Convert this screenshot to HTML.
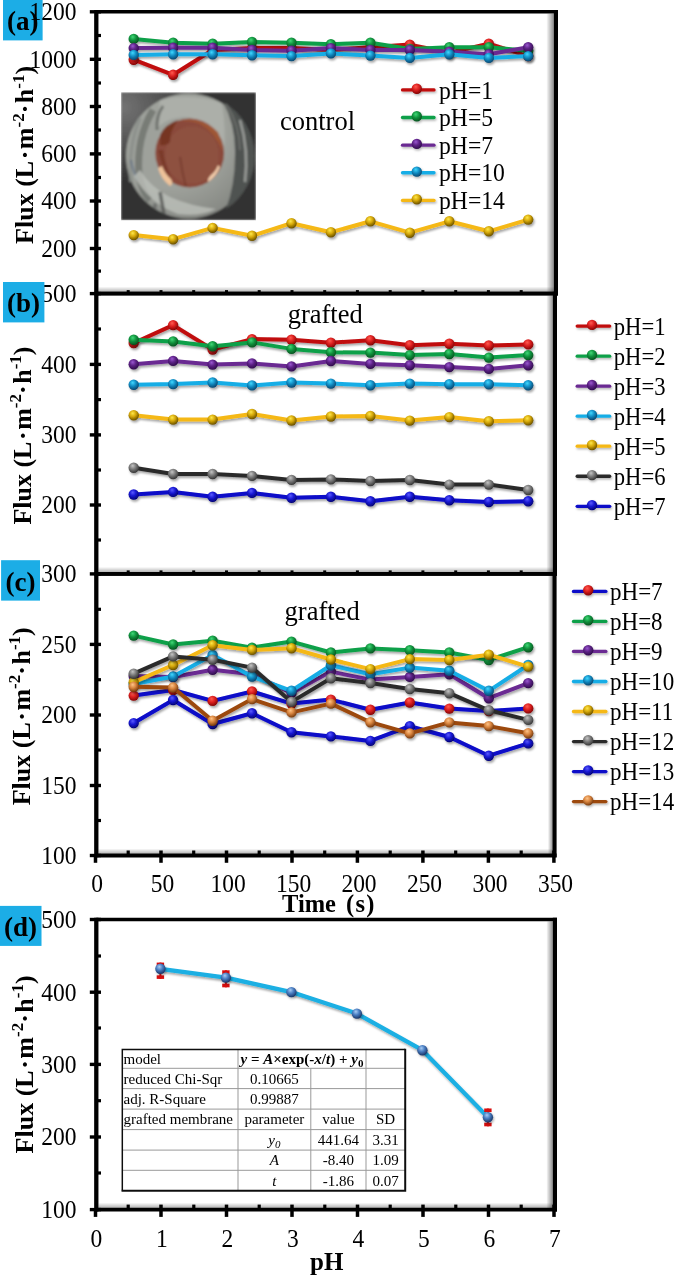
<!DOCTYPE html><html><head><meta charset="utf-8"><style>
html,body{margin:0;padding:0;background:#fff;}body{width:675px;height:1276px;overflow:hidden;}
svg{display:block;} text{font-family:"Liberation Serif",serif;fill:#000;}
.tk{font-size:25px;} .lg{font-size:24.5px;} .ann{font-size:26.5px;} .ttl{font-size:27px;font-weight:bold;} .pl{font-size:26px;font-weight:bold;}
.tb{font-size:15px;}
</style></head><body>
<svg width="675" height="1276" viewBox="0 0 675 1276">
<defs><radialGradient id="g_red" cx="0.42" cy="0.36" r="0.68" fx="0.4" fy="0.3"><stop offset="0" stop-color="#ff5a50"/><stop offset="0.45" stop-color="#dc2020"/><stop offset="1" stop-color="#7a0000"/></radialGradient><radialGradient id="g_green" cx="0.42" cy="0.36" r="0.68" fx="0.4" fy="0.3"><stop offset="0" stop-color="#40d878"/><stop offset="0.45" stop-color="#12963f"/><stop offset="1" stop-color="#034a1c"/></radialGradient><radialGradient id="g_purple" cx="0.42" cy="0.36" r="0.68" fx="0.4" fy="0.3"><stop offset="0" stop-color="#9a58d0"/><stop offset="0.45" stop-color="#5e2288"/><stop offset="1" stop-color="#2a0a44"/></radialGradient><radialGradient id="g_cyan" cx="0.42" cy="0.36" r="0.68" fx="0.4" fy="0.3"><stop offset="0" stop-color="#40d8ff"/><stop offset="0.45" stop-color="#138fc6"/><stop offset="1" stop-color="#053e66"/></radialGradient><radialGradient id="g_yellow" cx="0.42" cy="0.36" r="0.68" fx="0.4" fy="0.3"><stop offset="0" stop-color="#ffe84a"/><stop offset="0.45" stop-color="#d6a808"/><stop offset="1" stop-color="#5e4600"/></radialGradient><radialGradient id="g_gray" cx="0.42" cy="0.36" r="0.68" fx="0.4" fy="0.3"><stop offset="0" stop-color="#c4c4c4"/><stop offset="0.45" stop-color="#7c7c7c"/><stop offset="1" stop-color="#2e2e2e"/></radialGradient><radialGradient id="g_blue" cx="0.42" cy="0.36" r="0.68" fx="0.4" fy="0.3"><stop offset="0" stop-color="#5a5aff"/><stop offset="0.45" stop-color="#1818d4"/><stop offset="1" stop-color="#00006a"/></radialGradient><radialGradient id="g_brown" cx="0.42" cy="0.36" r="0.68" fx="0.4" fy="0.3"><stop offset="0" stop-color="#ffc488"/><stop offset="0.45" stop-color="#d8843e"/><stop offset="1" stop-color="#6a3008"/></radialGradient><radialGradient id="g_dball" cx="0.42" cy="0.36" r="0.68" fx="0.4" fy="0.3"><stop offset="0" stop-color="#a8ccf4"/><stop offset="0.45" stop-color="#4a7ec2"/><stop offset="1" stop-color="#142c5c"/></radialGradient><filter id="sh" x="-5%" y="-20%" width="110%" height="140%"><feDropShadow dx="1.2" dy="2" stdDeviation="1.3" flood-color="#000" flood-opacity="0.35"/></filter><filter id="sh2" x="-20%" y="-50%" width="140%" height="200%"><feDropShadow dx="1" dy="1.5" stdDeviation="1" flood-color="#000" flood-opacity="0.3"/></filter><linearGradient id="shR" x1="0" x2="1" y1="0" y2="0"><stop offset="0" stop-color="#000" stop-opacity="0"/><stop offset="1" stop-color="#000" stop-opacity="0.45"/></linearGradient><linearGradient id="shB" x1="0" x2="0" y1="0" y2="1"><stop offset="0" stop-color="#000" stop-opacity="0"/><stop offset="1" stop-color="#000" stop-opacity="0.3"/></linearGradient><linearGradient id="photobg" x1="0" y1="0" x2="1" y2="1"><stop offset="0" stop-color="#6a6a6a"/><stop offset="0.35" stop-color="#3c3c3c"/><stop offset="1" stop-color="#2e2e2e"/></linearGradient><radialGradient id="photoHi" cx="0.02" cy="0.12" r="0.6"><stop offset="0" stop-color="#7a7a7a" stop-opacity="0.9"/><stop offset="1" stop-color="#7a7a7a" stop-opacity="0"/></radialGradient><radialGradient id="discSh" cx="0.35" cy="0.3" r="0.75"><stop offset="0.6" stop-color="#000" stop-opacity="0"/><stop offset="1" stop-color="#000" stop-opacity="0.15"/></radialGradient><linearGradient id="photoL" x1="0" x2="1"><stop offset="0" stop-color="#808080" stop-opacity="0.5"/><stop offset="1" stop-color="#808080" stop-opacity="0"/></linearGradient><filter id="soft"><feGaussianBlur stdDeviation="0.9"/></filter><radialGradient id="disc" cx="0.45" cy="0.45" r="0.6"><stop offset="0" stop-color="#c8cac6"/><stop offset="0.7" stop-color="#b0b3ae"/><stop offset="1" stop-color="#8e918c"/></radialGradient><radialGradient id="brown" cx="0.5" cy="0.45" r="0.55"><stop offset="0" stop-color="#8a4a38"/><stop offset="0.7" stop-color="#7e4030"/><stop offset="1" stop-color="#9a5a40"/></radialGradient><filter id="gblur" x="0" y="0" width="100%" height="100%"><feGaussianBlur stdDeviation="0.45"/></filter></defs>
<rect x="0" y="0" width="675" height="1276" fill="#fff"/>
<g filter="url(#gblur)">
<rect x="3" y="0" width="39.6" height="40.4" fill="#1aade6"/><text x="7" y="29.5" class="ttl">(a)</text>
<rect x="546.3" y="13.600000000000001" width="7.5" height="280.0" fill="url(#shR)" opacity="1.11"/><rect x="98.3" y="286.6" width="455.6" height="5.3" fill="url(#shB)"/><line x1="96.3" y1="11.8" x2="558.0" y2="11.8" stroke="#000" stroke-width="3.5"/><line x1="95.3" y1="293.6" x2="558.0" y2="293.6" stroke="#000" stroke-width="3.9"/><line x1="96.3" y1="10.05" x2="96.3" y2="295.40000000000003" stroke="#000" stroke-width="4.3"/><line x1="555.9" y1="10.05" x2="555.9" y2="295.40000000000003" stroke="#000" stroke-width="4.2"/>
<rect x="546.3" y="295.40000000000003" width="6.5" height="278.5" fill="url(#shR)" opacity="0.93"/><rect x="98.3" y="566.9" width="454.6" height="5.3" fill="url(#shB)"/><line x1="96.3" y1="293.6" x2="557.0" y2="293.6" stroke="#000" stroke-width="3.5"/><line x1="95.3" y1="573.9" x2="557.0" y2="573.9" stroke="#000" stroke-width="3.9"/><line x1="96.3" y1="291.85" x2="96.3" y2="575.6999999999999" stroke="#000" stroke-width="4.3"/><line x1="554.9" y1="291.85" x2="554.9" y2="575.6999999999999" stroke="#000" stroke-width="4.2"/>
<rect x="547.9" y="575.6999999999999" width="4.5" height="279.8" fill="url(#shR)" opacity="0.89"/><rect x="98.3" y="848.5" width="454.2" height="5.3" fill="url(#shB)"/><line x1="96.3" y1="573.9" x2="556.6" y2="573.9" stroke="#000" stroke-width="3.5"/><line x1="95.3" y1="855.5" x2="556.6" y2="855.5" stroke="#000" stroke-width="3.9"/><line x1="96.3" y1="572.15" x2="96.3" y2="857.3" stroke="#000" stroke-width="4.3"/><line x1="554.5" y1="572.15" x2="554.5" y2="857.3" stroke="#000" stroke-width="4.2"/>
<rect x="546.3" y="921.3" width="6.5" height="288.3" fill="url(#shR)" opacity="1.00"/><rect x="98.3" y="1202.6" width="454.6" height="5.3" fill="url(#shB)"/><line x1="96.3" y1="919.5" x2="557.0" y2="919.5" stroke="#000" stroke-width="3.5"/><line x1="95.3" y1="1209.6" x2="557.0" y2="1209.6" stroke="#000" stroke-width="3.9"/><line x1="96.3" y1="917.75" x2="96.3" y2="1211.3999999999999" stroke="#000" stroke-width="4.3"/><line x1="554.9" y1="917.75" x2="554.9" y2="1211.3999999999999" stroke="#000" stroke-width="4.2"/>
<line x1="89.8" y1="11.8" x2="101" y2="11.8" stroke="#000" stroke-width="3.4"/><line x1="89.8" y1="59.3" x2="101" y2="59.3" stroke="#000" stroke-width="3.4"/><line x1="89.8" y1="106.5" x2="101" y2="106.5" stroke="#000" stroke-width="3.4"/><line x1="89.8" y1="153.9" x2="101" y2="153.9" stroke="#000" stroke-width="3.4"/><line x1="89.8" y1="201" x2="101" y2="201" stroke="#000" stroke-width="3.4"/><line x1="89.8" y1="248.5" x2="101" y2="248.5" stroke="#000" stroke-width="3.4"/><line x1="96" y1="35.5" x2="101" y2="35.5" stroke="#000" stroke-width="3.2"/><line x1="96" y1="83" x2="101" y2="83" stroke="#000" stroke-width="3.2"/><line x1="96" y1="130" x2="101" y2="130" stroke="#000" stroke-width="3.2"/><line x1="96" y1="177.5" x2="101" y2="177.5" stroke="#000" stroke-width="3.2"/><line x1="96" y1="224.7" x2="101" y2="224.7" stroke="#000" stroke-width="3.2"/><line x1="96" y1="271.1" x2="101" y2="271.1" stroke="#000" stroke-width="3.2"/>
<line x1="89.8" y1="293.6" x2="101" y2="293.6" stroke="#000" stroke-width="3.4"/><line x1="89.8" y1="364.4" x2="101" y2="364.4" stroke="#000" stroke-width="3.4"/><line x1="89.8" y1="434.9" x2="101" y2="434.9" stroke="#000" stroke-width="3.4"/><line x1="89.8" y1="505" x2="101" y2="505" stroke="#000" stroke-width="3.4"/><line x1="96" y1="329" x2="101" y2="329" stroke="#000" stroke-width="3.2"/><line x1="96" y1="399.6" x2="101" y2="399.6" stroke="#000" stroke-width="3.2"/><line x1="96" y1="470" x2="101" y2="470" stroke="#000" stroke-width="3.2"/><line x1="96" y1="540" x2="101" y2="540" stroke="#000" stroke-width="3.2"/>
<line x1="89.8" y1="573.9" x2="101" y2="573.9" stroke="#000" stroke-width="3.4"/><line x1="89.8" y1="644.4" x2="101" y2="644.4" stroke="#000" stroke-width="3.4"/><line x1="89.8" y1="715" x2="101" y2="715" stroke="#000" stroke-width="3.4"/><line x1="89.8" y1="785.5" x2="101" y2="785.5" stroke="#000" stroke-width="3.4"/><line x1="89.8" y1="855.5" x2="101" y2="855.5" stroke="#000" stroke-width="3.4"/><line x1="96" y1="609.3" x2="101" y2="609.3" stroke="#000" stroke-width="3.2"/><line x1="96" y1="679.7" x2="101" y2="679.7" stroke="#000" stroke-width="3.2"/><line x1="96" y1="750" x2="101" y2="750" stroke="#000" stroke-width="3.2"/><line x1="96" y1="820.5" x2="101" y2="820.5" stroke="#000" stroke-width="3.2"/>
<line x1="89.8" y1="919.5" x2="101" y2="919.5" stroke="#000" stroke-width="3.4"/><line x1="89.8" y1="992.2" x2="101" y2="992.2" stroke="#000" stroke-width="3.4"/><line x1="89.8" y1="1064.4" x2="101" y2="1064.4" stroke="#000" stroke-width="3.4"/><line x1="89.8" y1="1137" x2="101" y2="1137" stroke="#000" stroke-width="3.4"/><line x1="89.8" y1="1209.6" x2="101" y2="1209.6" stroke="#000" stroke-width="3.4"/><line x1="96" y1="956" x2="101" y2="956" stroke="#000" stroke-width="3.2"/><line x1="96" y1="1028" x2="101" y2="1028" stroke="#000" stroke-width="3.2"/><line x1="96" y1="1100.7" x2="101" y2="1100.7" stroke="#000" stroke-width="3.2"/><line x1="96" y1="1173" x2="101" y2="1173" stroke="#000" stroke-width="3.2"/>
<line x1="128.2" y1="290.1" x2="128.2" y2="293.6" stroke="#000" stroke-width="3"/>
<line x1="161.0" y1="290.1" x2="161.0" y2="293.6" stroke="#000" stroke-width="3"/>
<line x1="193.7" y1="290.1" x2="193.7" y2="293.6" stroke="#000" stroke-width="3"/>
<line x1="226.5" y1="290.1" x2="226.5" y2="293.6" stroke="#000" stroke-width="3"/>
<line x1="259.2" y1="290.1" x2="259.2" y2="293.6" stroke="#000" stroke-width="3"/>
<line x1="292.0" y1="290.1" x2="292.0" y2="293.6" stroke="#000" stroke-width="3"/>
<line x1="324.7" y1="290.1" x2="324.7" y2="293.6" stroke="#000" stroke-width="3"/>
<line x1="357.4" y1="290.1" x2="357.4" y2="293.6" stroke="#000" stroke-width="3"/>
<line x1="390.2" y1="290.1" x2="390.2" y2="293.6" stroke="#000" stroke-width="3"/>
<line x1="422.9" y1="290.1" x2="422.9" y2="293.6" stroke="#000" stroke-width="3"/>
<line x1="455.7" y1="290.1" x2="455.7" y2="293.6" stroke="#000" stroke-width="3"/>
<line x1="488.4" y1="290.1" x2="488.4" y2="293.6" stroke="#000" stroke-width="3"/>
<line x1="521.2" y1="290.1" x2="521.2" y2="293.6" stroke="#000" stroke-width="3"/>
<line x1="128.2" y1="570.4" x2="128.2" y2="573.9" stroke="#000" stroke-width="3"/>
<line x1="161.0" y1="570.4" x2="161.0" y2="573.9" stroke="#000" stroke-width="3"/>
<line x1="193.7" y1="570.4" x2="193.7" y2="573.9" stroke="#000" stroke-width="3"/>
<line x1="226.5" y1="570.4" x2="226.5" y2="573.9" stroke="#000" stroke-width="3"/>
<line x1="259.2" y1="570.4" x2="259.2" y2="573.9" stroke="#000" stroke-width="3"/>
<line x1="292.0" y1="570.4" x2="292.0" y2="573.9" stroke="#000" stroke-width="3"/>
<line x1="324.7" y1="570.4" x2="324.7" y2="573.9" stroke="#000" stroke-width="3"/>
<line x1="357.4" y1="570.4" x2="357.4" y2="573.9" stroke="#000" stroke-width="3"/>
<line x1="390.2" y1="570.4" x2="390.2" y2="573.9" stroke="#000" stroke-width="3"/>
<line x1="422.9" y1="570.4" x2="422.9" y2="573.9" stroke="#000" stroke-width="3"/>
<line x1="455.7" y1="570.4" x2="455.7" y2="573.9" stroke="#000" stroke-width="3"/>
<line x1="488.4" y1="570.4" x2="488.4" y2="573.9" stroke="#000" stroke-width="3"/>
<line x1="521.2" y1="570.4" x2="521.2" y2="573.9" stroke="#000" stroke-width="3"/>
<line x1="128.2" y1="850.5" x2="128.2" y2="855.5" stroke="#000" stroke-width="3.2"/>
<line x1="161.0" y1="850.5" x2="161.0" y2="862.8" stroke="#000" stroke-width="3.5"/>
<line x1="193.7" y1="850.5" x2="193.7" y2="855.5" stroke="#000" stroke-width="3.2"/>
<line x1="226.5" y1="850.5" x2="226.5" y2="862.8" stroke="#000" stroke-width="3.5"/>
<line x1="259.2" y1="850.5" x2="259.2" y2="855.5" stroke="#000" stroke-width="3.2"/>
<line x1="292.0" y1="850.5" x2="292.0" y2="862.8" stroke="#000" stroke-width="3.5"/>
<line x1="324.7" y1="850.5" x2="324.7" y2="855.5" stroke="#000" stroke-width="3.2"/>
<line x1="357.4" y1="850.5" x2="357.4" y2="862.8" stroke="#000" stroke-width="3.5"/>
<line x1="390.2" y1="850.5" x2="390.2" y2="855.5" stroke="#000" stroke-width="3.2"/>
<line x1="422.9" y1="850.5" x2="422.9" y2="862.8" stroke="#000" stroke-width="3.5"/>
<line x1="455.7" y1="850.5" x2="455.7" y2="855.5" stroke="#000" stroke-width="3.2"/>
<line x1="488.4" y1="850.5" x2="488.4" y2="862.8" stroke="#000" stroke-width="3.5"/>
<line x1="521.2" y1="850.5" x2="521.2" y2="855.5" stroke="#000" stroke-width="3.2"/>
<line x1="553.9" y1="850.5" x2="553.9" y2="862.8" stroke="#000" stroke-width="3.5"/>
<line x1="95.5" y1="855.5" x2="95.5" y2="862.8" stroke="#000" stroke-width="3.5"/>
<line x1="128.2" y1="1204.6" x2="128.2" y2="1209.6" stroke="#000" stroke-width="3.2"/>
<line x1="161.0" y1="1204.6" x2="161.0" y2="1216.8999999999999" stroke="#000" stroke-width="3.5"/>
<line x1="193.8" y1="1204.6" x2="193.8" y2="1209.6" stroke="#000" stroke-width="3.2"/>
<line x1="226.5" y1="1204.6" x2="226.5" y2="1216.8999999999999" stroke="#000" stroke-width="3.5"/>
<line x1="259.2" y1="1204.6" x2="259.2" y2="1209.6" stroke="#000" stroke-width="3.2"/>
<line x1="292.0" y1="1204.6" x2="292.0" y2="1216.8999999999999" stroke="#000" stroke-width="3.5"/>
<line x1="324.8" y1="1204.6" x2="324.8" y2="1209.6" stroke="#000" stroke-width="3.2"/>
<line x1="357.5" y1="1204.6" x2="357.5" y2="1216.8999999999999" stroke="#000" stroke-width="3.5"/>
<line x1="390.2" y1="1204.6" x2="390.2" y2="1209.6" stroke="#000" stroke-width="3.2"/>
<line x1="423.0" y1="1204.6" x2="423.0" y2="1216.8999999999999" stroke="#000" stroke-width="3.5"/>
<line x1="455.8" y1="1204.6" x2="455.8" y2="1209.6" stroke="#000" stroke-width="3.2"/>
<line x1="488.5" y1="1204.6" x2="488.5" y2="1216.8999999999999" stroke="#000" stroke-width="3.5"/>
<line x1="521.2" y1="1204.6" x2="521.2" y2="1209.6" stroke="#000" stroke-width="3.2"/>
<line x1="554.0" y1="1204.6" x2="554.0" y2="1216.8999999999999" stroke="#000" stroke-width="3.5"/>
<line x1="95.5" y1="1209.6" x2="95.5" y2="1216.8999999999999" stroke="#000" stroke-width="3.5"/>
<text transform="translate(76.6,20.2) scale(0.94,1)" class="tk" text-anchor="end">1200</text><text transform="translate(76.6,67.7) scale(0.94,1)" class="tk" text-anchor="end">1000</text><text transform="translate(76.6,114.9) scale(0.94,1)" class="tk" text-anchor="end">800</text><text transform="translate(76.6,162.3) scale(0.94,1)" class="tk" text-anchor="end">600</text><text transform="translate(76.6,209.4) scale(0.94,1)" class="tk" text-anchor="end">400</text><text transform="translate(76.6,256.9) scale(0.94,1)" class="tk" text-anchor="end">200</text>
<text transform="translate(76.6,302.0) scale(0.94,1)" class="tk" text-anchor="end">500</text><text transform="translate(76.6,372.8) scale(0.94,1)" class="tk" text-anchor="end">400</text><text transform="translate(76.6,443.3) scale(0.94,1)" class="tk" text-anchor="end">300</text><text transform="translate(76.6,513.4) scale(0.94,1)" class="tk" text-anchor="end">200</text>
<text transform="translate(76.6,582.3) scale(0.94,1)" class="tk" text-anchor="end">300</text><text transform="translate(76.6,652.8) scale(0.94,1)" class="tk" text-anchor="end">250</text><text transform="translate(76.6,723.4) scale(0.94,1)" class="tk" text-anchor="end">200</text><text transform="translate(76.6,793.9) scale(0.94,1)" class="tk" text-anchor="end">150</text><text transform="translate(76.6,863.9) scale(0.94,1)" class="tk" text-anchor="end">100</text>
<text transform="translate(76.6,927.9) scale(0.94,1)" class="tk" text-anchor="end">500</text><text transform="translate(76.6,1000.6) scale(0.94,1)" class="tk" text-anchor="end">400</text><text transform="translate(76.6,1072.8) scale(0.94,1)" class="tk" text-anchor="end">300</text><text transform="translate(76.6,1145.4) scale(0.94,1)" class="tk" text-anchor="end">200</text><text transform="translate(76.6,1218.0) scale(0.94,1)" class="tk" text-anchor="end">100</text>
<text transform="translate(97.1,892.3) scale(0.94,1)" class="tk" text-anchor="middle">0</text>
<text transform="translate(96.3,1247) scale(0.94,1)" class="tk" text-anchor="middle">0</text>
<text transform="translate(162.6,892.3) scale(0.94,1)" class="tk" text-anchor="middle">50</text>
<text transform="translate(161.8,1247) scale(0.94,1)" class="tk" text-anchor="middle">1</text>
<text transform="translate(228.1,892.3) scale(0.94,1)" class="tk" text-anchor="middle">100</text>
<text transform="translate(227.3,1247) scale(0.94,1)" class="tk" text-anchor="middle">2</text>
<text transform="translate(293.6,892.3) scale(0.94,1)" class="tk" text-anchor="middle">150</text>
<text transform="translate(292.8,1247) scale(0.94,1)" class="tk" text-anchor="middle">3</text>
<text transform="translate(359.0,892.3) scale(0.94,1)" class="tk" text-anchor="middle">200</text>
<text transform="translate(358.3,1247) scale(0.94,1)" class="tk" text-anchor="middle">4</text>
<text transform="translate(424.5,892.3) scale(0.94,1)" class="tk" text-anchor="middle">250</text>
<text transform="translate(423.8,1247) scale(0.94,1)" class="tk" text-anchor="middle">5</text>
<text transform="translate(490.0,892.3) scale(0.94,1)" class="tk" text-anchor="middle">300</text>
<text transform="translate(489.3,1247) scale(0.94,1)" class="tk" text-anchor="middle">6</text>
<text transform="translate(555.5,892.3) scale(0.94,1)" class="tk" text-anchor="middle">350</text>
<text transform="translate(554.8,1247) scale(0.94,1)" class="tk" text-anchor="middle">7</text>
<rect x="3" y="282" width="41.4" height="40.4" fill="#1aade6"/><text x="7" y="312" class="ttl">(b)</text>
<rect x="1.1" y="560.2" width="38.9" height="40.4" fill="#1aade6"/><text x="5.5" y="591" class="ttl">(c)</text>
<rect x="0" y="905.9" width="41.5" height="40.0" fill="#1aade6"/><text x="4" y="936" class="ttl">(d)</text>
<text transform="translate(33.2,243.9) rotate(-90)" class="pl">Flux (L<tspan dx="1.5">·</tspan><tspan dx="1.5">m</tspan><tspan dy="-9.5" font-size="17">-2</tspan><tspan dy="9.5">·</tspan><tspan dx="1.5">h</tspan><tspan dy="-9.5" font-size="17">-1</tspan><tspan dy="9.5">)</tspan></text>
<text transform="translate(30.8,524.6) rotate(-90)" class="pl">Flux (L<tspan dx="1.5">·</tspan><tspan dx="1.5">m</tspan><tspan dy="-9.5" font-size="17">-2</tspan><tspan dy="9.5">·</tspan><tspan dx="1.5">h</tspan><tspan dy="-9.5" font-size="17">-1</tspan><tspan dy="9.5">)</tspan></text>
<text transform="translate(29.6,805.3) rotate(-90)" class="pl">Flux (L<tspan dx="1.5">·</tspan><tspan dx="1.5">m</tspan><tspan dy="-9.5" font-size="17">-2</tspan><tspan dy="9.5">·</tspan><tspan dx="1.5">h</tspan><tspan dy="-9.5" font-size="17">-1</tspan><tspan dy="9.5">)</tspan></text>
<text transform="translate(32.6,1153.4) rotate(-90)" class="pl">Flux (L<tspan dx="1.5">·</tspan><tspan dx="1.5">m</tspan><tspan dy="-9.5" font-size="17">-2</tspan><tspan dy="9.5">·</tspan><tspan dx="1.5">h</tspan><tspan dy="-9.5" font-size="17">-1</tspan><tspan dy="9.5">)</tspan></text>
<text x="282" y="912" class="pl" style="font-size:24.5px">Time</text><text x="346" y="912" class="pl" style="font-size:24.5px;letter-spacing:1.3px">(s)</text>
<text x="310" y="1270" class="pl" style="font-size:25px">pH</text>
<clipPath id="pclip"><rect x="121" y="92.3" width="135" height="128"/></clipPath>
<g clip-path="url(#pclip)"><g filter="url(#soft)">
<rect x="121" y="92.3" width="135" height="128" fill="#303030"/>
<rect x="121" y="92.3" width="135" height="128" fill="url(#photoHi)"/>
<circle cx="188.5" cy="156" r="62.5" fill="#9ea19b"/>
<circle cx="188.5" cy="156" r="62.5" fill="url(#discSh)"/>
<path d="M160,100 Q190,92 222,103 Q226,130 224,150 Q205,118 185,117 Q165,118 156,130 Z" fill="#b2b5af" opacity="0.7"/>
<path d="M223,102 Q236,125 235,155 Q235,185 226,209 A62.5,62.5 0 0 0 223,102 Z" fill="#505351"/>
<path d="M240,120 Q249,150 245,182" stroke="#b8bbb6" stroke-width="2.5" fill="none" opacity="0.7"/>
<path d="M226,104 Q240,126 240,150" stroke="#7a7d7a" stroke-width="2" fill="none" opacity="0.6"/>
<path d="M153,110 Q136,138 139,175 Q142,192 150,200" stroke="#6e726d" stroke-width="7" fill="none" opacity="0.8"/>
<path d="M140,118 Q128,146 131,182" stroke="#8a8e89" stroke-width="4" fill="none" opacity="0.8"/>
<path d="M163,106 Q156,116 157,130" stroke="#5a5e5a" stroke-width="3" fill="none" opacity="0.7"/>
<path d="M131,160 Q133,172 138,180" stroke="#4a6080" stroke-width="2" fill="none" opacity="0.5"/>
<path d="M134,176 Q150,204 178,214 Q200,217 216,209 Q190,206 170,197 Q150,187 140,170 Z" fill="#bcbfb9" opacity="0.8"/>
<path d="M160,192 L164,214" stroke="#4e504e" stroke-width="3.5" opacity="0.75"/>
<ellipse cx="155" cy="206" rx="2" ry="3" fill="#5a5c5a" opacity="0.6"/>
<ellipse cx="189.7" cy="153" rx="34.4" ry="34.4" fill="#8a4a3a"/>
<ellipse cx="192" cy="155" rx="27" ry="29" fill="#8e5242" opacity="0.9"/>
<path d="M160,135 Q165,124 178,120 Q170,130 170,142 Q166,146 160,145 Z" fill="#72301f" opacity="0.85"/>
<path d="M178,121 Q200,115 218,132 Q222,142 223,152 Q215,132 200,124 Q190,120 178,121 Z" fill="#a45a34" opacity="0.8"/>
<path d="M180,157 Q182,172 186,187" stroke="#6e3426" stroke-width="2" fill="none" opacity="0.6"/>
<path d="M158,150 Q162,170 172,180 Q165,165 163,150 Z" fill="#6a2c1e" opacity="0.5"/>
<path d="M158,168 Q161,179 170,186 Q174,184 171,179 Q165,174 162,166 Z" fill="#eec29a"/>
<path d="M220,167 Q216,177 208,182 Q207,179 211,175 Q216,171 218,165 Z" fill="#f2ccaa"/>
</g></g>
<g filter="url(#sh)"><polyline points="133.7,59.7 173.1,74.8 212.6,50.0 252.0,48.1 291.5,48.1 330.9,49.9 370.4,47.2 409.8,44.6 449.3,52.6 488.8,43.7 528.2,56.1" fill="none" stroke="#c00a0c" stroke-width="4.0" stroke-linejoin="round" stroke-linecap="round"/><circle cx="133.7" cy="59.7" r="5.2" fill="url(#g_red)"/><circle cx="173.1" cy="74.8" r="5.2" fill="url(#g_red)"/><circle cx="212.6" cy="50.0" r="5.2" fill="url(#g_red)"/><circle cx="252.0" cy="48.1" r="5.2" fill="url(#g_red)"/><circle cx="291.5" cy="48.1" r="5.2" fill="url(#g_red)"/><circle cx="330.9" cy="49.9" r="5.2" fill="url(#g_red)"/><circle cx="370.4" cy="47.2" r="5.2" fill="url(#g_red)"/><circle cx="409.8" cy="44.6" r="5.2" fill="url(#g_red)"/><circle cx="449.3" cy="52.6" r="5.2" fill="url(#g_red)"/><circle cx="488.8" cy="43.7" r="5.2" fill="url(#g_red)"/><circle cx="528.2" cy="56.1" r="5.2" fill="url(#g_red)"/></g>
<g filter="url(#sh)"><polyline points="133.7,38.9 173.1,42.8 212.6,43.7 252.0,41.9 291.5,42.8 330.9,44.2 370.4,42.8 409.8,49.0 449.3,47.2 488.8,47.2 528.2,50.8" fill="none" stroke="#10a048" stroke-width="4.0" stroke-linejoin="round" stroke-linecap="round"/><circle cx="133.7" cy="38.9" r="5.2" fill="url(#g_green)"/><circle cx="173.1" cy="42.8" r="5.2" fill="url(#g_green)"/><circle cx="212.6" cy="43.7" r="5.2" fill="url(#g_green)"/><circle cx="252.0" cy="41.9" r="5.2" fill="url(#g_green)"/><circle cx="291.5" cy="42.8" r="5.2" fill="url(#g_green)"/><circle cx="330.9" cy="44.2" r="5.2" fill="url(#g_green)"/><circle cx="370.4" cy="42.8" r="5.2" fill="url(#g_green)"/><circle cx="409.8" cy="49.0" r="5.2" fill="url(#g_green)"/><circle cx="449.3" cy="47.2" r="5.2" fill="url(#g_green)"/><circle cx="488.8" cy="47.2" r="5.2" fill="url(#g_green)"/><circle cx="528.2" cy="50.8" r="5.2" fill="url(#g_green)"/></g>
<g filter="url(#sh)"><polyline points="133.7,48.1 173.1,47.8 212.6,47.8 252.0,49.9 291.5,50.8 330.9,48.1 370.4,49.9 409.8,49.9 449.3,51.7 488.8,54.3 528.2,47.2" fill="none" stroke="#6a2a92" stroke-width="4.0" stroke-linejoin="round" stroke-linecap="round"/><circle cx="133.7" cy="48.1" r="5.2" fill="url(#g_purple)"/><circle cx="173.1" cy="47.8" r="5.2" fill="url(#g_purple)"/><circle cx="212.6" cy="47.8" r="5.2" fill="url(#g_purple)"/><circle cx="252.0" cy="49.9" r="5.2" fill="url(#g_purple)"/><circle cx="291.5" cy="50.8" r="5.2" fill="url(#g_purple)"/><circle cx="330.9" cy="48.1" r="5.2" fill="url(#g_purple)"/><circle cx="370.4" cy="49.9" r="5.2" fill="url(#g_purple)"/><circle cx="409.8" cy="49.9" r="5.2" fill="url(#g_purple)"/><circle cx="449.3" cy="51.7" r="5.2" fill="url(#g_purple)"/><circle cx="488.8" cy="54.3" r="5.2" fill="url(#g_purple)"/><circle cx="528.2" cy="47.2" r="5.2" fill="url(#g_purple)"/></g>
<g filter="url(#sh)"><polyline points="133.7,54.9 173.1,54.3 212.6,54.3 252.0,55.2 291.5,56.1 330.9,53.4 370.4,55.6 409.8,57.9 449.3,54.3 488.8,57.9 528.2,56.1" fill="none" stroke="#14ade6" stroke-width="4.0" stroke-linejoin="round" stroke-linecap="round"/><circle cx="133.7" cy="54.9" r="5.2" fill="url(#g_cyan)"/><circle cx="173.1" cy="54.3" r="5.2" fill="url(#g_cyan)"/><circle cx="212.6" cy="54.3" r="5.2" fill="url(#g_cyan)"/><circle cx="252.0" cy="55.2" r="5.2" fill="url(#g_cyan)"/><circle cx="291.5" cy="56.1" r="5.2" fill="url(#g_cyan)"/><circle cx="330.9" cy="53.4" r="5.2" fill="url(#g_cyan)"/><circle cx="370.4" cy="55.6" r="5.2" fill="url(#g_cyan)"/><circle cx="409.8" cy="57.9" r="5.2" fill="url(#g_cyan)"/><circle cx="449.3" cy="54.3" r="5.2" fill="url(#g_cyan)"/><circle cx="488.8" cy="57.9" r="5.2" fill="url(#g_cyan)"/><circle cx="528.2" cy="56.1" r="5.2" fill="url(#g_cyan)"/></g>
<g filter="url(#sh)"><polyline points="133.7,235.1 173.1,239.2 212.6,227.9 252.0,235.8 291.5,223.2 330.9,232.2 370.4,221.3 409.8,232.7 449.3,221.3 488.8,231.3 528.2,219.6" fill="none" stroke="#f5b814" stroke-width="4.0" stroke-linejoin="round" stroke-linecap="round"/><circle cx="133.7" cy="235.1" r="5.2" fill="url(#g_yellow)"/><circle cx="173.1" cy="239.2" r="5.2" fill="url(#g_yellow)"/><circle cx="212.6" cy="227.9" r="5.2" fill="url(#g_yellow)"/><circle cx="252.0" cy="235.8" r="5.2" fill="url(#g_yellow)"/><circle cx="291.5" cy="223.2" r="5.2" fill="url(#g_yellow)"/><circle cx="330.9" cy="232.2" r="5.2" fill="url(#g_yellow)"/><circle cx="370.4" cy="221.3" r="5.2" fill="url(#g_yellow)"/><circle cx="409.8" cy="232.7" r="5.2" fill="url(#g_yellow)"/><circle cx="449.3" cy="221.3" r="5.2" fill="url(#g_yellow)"/><circle cx="488.8" cy="231.3" r="5.2" fill="url(#g_yellow)"/><circle cx="528.2" cy="219.6" r="5.2" fill="url(#g_yellow)"/></g>
<text x="280" y="129.5" class="ann">control</text>
<g filter="url(#sh2)"><line x1="402.5" y1="89.9" x2="434.0" y2="89.9" stroke="#c00a0c" stroke-width="3.3" stroke-linecap="round"/><circle cx="416.8" cy="88.7" r="5.2" fill="url(#g_red)"/></g><text transform="translate(439,98.5) scale(0.965,1)" class="lg">pH=1</text>
<g filter="url(#sh2)"><line x1="402.5" y1="117.52000000000001" x2="434.0" y2="117.52000000000001" stroke="#10a048" stroke-width="3.3" stroke-linecap="round"/><circle cx="416.8" cy="116.3" r="5.2" fill="url(#g_green)"/></g><text transform="translate(439,126.1) scale(0.965,1)" class="lg">pH=5</text>
<g filter="url(#sh2)"><line x1="402.5" y1="145.14000000000001" x2="434.0" y2="145.14000000000001" stroke="#6a2a92" stroke-width="3.3" stroke-linecap="round"/><circle cx="416.8" cy="143.9" r="5.2" fill="url(#g_purple)"/></g><text transform="translate(439,153.7) scale(0.965,1)" class="lg">pH=7</text>
<g filter="url(#sh2)"><line x1="402.5" y1="172.76" x2="434.0" y2="172.76" stroke="#14ade6" stroke-width="3.3" stroke-linecap="round"/><circle cx="416.8" cy="171.6" r="5.2" fill="url(#g_cyan)"/></g><text transform="translate(439,181.4) scale(0.965,1)" class="lg">pH=10</text>
<g filter="url(#sh2)"><line x1="402.5" y1="200.38" x2="434.0" y2="200.38" stroke="#f5b814" stroke-width="3.3" stroke-linecap="round"/><circle cx="416.8" cy="199.2" r="5.2" fill="url(#g_yellow)"/></g><text transform="translate(439,209.0) scale(0.965,1)" class="lg">pH=14</text>
<g filter="url(#sh)"><polyline points="133.7,343.0 173.1,325.1 212.6,349.5 252.0,339.1 291.5,339.8 330.9,342.7 370.4,340.2 409.8,345.2 449.3,343.7 488.8,345.5 528.2,344.4" fill="none" stroke="#c00a0c" stroke-width="4.0" stroke-linejoin="round" stroke-linecap="round"/><circle cx="133.7" cy="343.0" r="5.2" fill="url(#g_red)"/><circle cx="173.1" cy="325.1" r="5.2" fill="url(#g_red)"/><circle cx="212.6" cy="349.5" r="5.2" fill="url(#g_red)"/><circle cx="252.0" cy="339.1" r="5.2" fill="url(#g_red)"/><circle cx="291.5" cy="339.8" r="5.2" fill="url(#g_red)"/><circle cx="330.9" cy="342.7" r="5.2" fill="url(#g_red)"/><circle cx="370.4" cy="340.2" r="5.2" fill="url(#g_red)"/><circle cx="409.8" cy="345.2" r="5.2" fill="url(#g_red)"/><circle cx="449.3" cy="343.7" r="5.2" fill="url(#g_red)"/><circle cx="488.8" cy="345.5" r="5.2" fill="url(#g_red)"/><circle cx="528.2" cy="344.4" r="5.2" fill="url(#g_red)"/></g>
<g filter="url(#sh)"><polyline points="133.7,339.8 173.1,341.4 212.6,346.3 252.0,342.4 291.5,348.9 330.9,352.3 370.4,352.6 409.8,355.1 449.3,354.0 488.8,357.6 528.2,355.1" fill="none" stroke="#10a048" stroke-width="4.0" stroke-linejoin="round" stroke-linecap="round"/><circle cx="133.7" cy="339.8" r="5.2" fill="url(#g_green)"/><circle cx="173.1" cy="341.4" r="5.2" fill="url(#g_green)"/><circle cx="212.6" cy="346.3" r="5.2" fill="url(#g_green)"/><circle cx="252.0" cy="342.4" r="5.2" fill="url(#g_green)"/><circle cx="291.5" cy="348.9" r="5.2" fill="url(#g_green)"/><circle cx="330.9" cy="352.3" r="5.2" fill="url(#g_green)"/><circle cx="370.4" cy="352.6" r="5.2" fill="url(#g_green)"/><circle cx="409.8" cy="355.1" r="5.2" fill="url(#g_green)"/><circle cx="449.3" cy="354.0" r="5.2" fill="url(#g_green)"/><circle cx="488.8" cy="357.6" r="5.2" fill="url(#g_green)"/><circle cx="528.2" cy="355.1" r="5.2" fill="url(#g_green)"/></g>
<g filter="url(#sh)"><polyline points="133.7,364.2 173.1,360.9 212.6,364.6 252.0,363.4 291.5,366.4 330.9,361.0 370.4,363.9 409.8,365.3 449.3,367.1 488.8,368.9 528.2,365.3" fill="none" stroke="#6a2a92" stroke-width="4.0" stroke-linejoin="round" stroke-linecap="round"/><circle cx="133.7" cy="364.2" r="5.2" fill="url(#g_purple)"/><circle cx="173.1" cy="360.9" r="5.2" fill="url(#g_purple)"/><circle cx="212.6" cy="364.6" r="5.2" fill="url(#g_purple)"/><circle cx="252.0" cy="363.4" r="5.2" fill="url(#g_purple)"/><circle cx="291.5" cy="366.4" r="5.2" fill="url(#g_purple)"/><circle cx="330.9" cy="361.0" r="5.2" fill="url(#g_purple)"/><circle cx="370.4" cy="363.9" r="5.2" fill="url(#g_purple)"/><circle cx="409.8" cy="365.3" r="5.2" fill="url(#g_purple)"/><circle cx="449.3" cy="367.1" r="5.2" fill="url(#g_purple)"/><circle cx="488.8" cy="368.9" r="5.2" fill="url(#g_purple)"/><circle cx="528.2" cy="365.3" r="5.2" fill="url(#g_purple)"/></g>
<g filter="url(#sh)"><polyline points="133.7,384.7 173.1,384.1 212.6,382.5 252.0,385.4 291.5,382.5 330.9,383.6 370.4,385.3 409.8,383.6 449.3,384.3 488.8,384.3 528.2,385.3" fill="none" stroke="#14ade6" stroke-width="4.0" stroke-linejoin="round" stroke-linecap="round"/><circle cx="133.7" cy="384.7" r="5.2" fill="url(#g_cyan)"/><circle cx="173.1" cy="384.1" r="5.2" fill="url(#g_cyan)"/><circle cx="212.6" cy="382.5" r="5.2" fill="url(#g_cyan)"/><circle cx="252.0" cy="385.4" r="5.2" fill="url(#g_cyan)"/><circle cx="291.5" cy="382.5" r="5.2" fill="url(#g_cyan)"/><circle cx="330.9" cy="383.6" r="5.2" fill="url(#g_cyan)"/><circle cx="370.4" cy="385.3" r="5.2" fill="url(#g_cyan)"/><circle cx="409.8" cy="383.6" r="5.2" fill="url(#g_cyan)"/><circle cx="449.3" cy="384.3" r="5.2" fill="url(#g_cyan)"/><circle cx="488.8" cy="384.3" r="5.2" fill="url(#g_cyan)"/><circle cx="528.2" cy="385.3" r="5.2" fill="url(#g_cyan)"/></g>
<g filter="url(#sh)"><polyline points="133.7,415.3 173.1,419.6 212.6,419.6 252.0,414.0 291.5,420.5 330.9,416.5 370.4,416.0 409.8,420.6 449.3,417.1 488.8,421.3 528.2,420.3" fill="none" stroke="#f5b814" stroke-width="4.0" stroke-linejoin="round" stroke-linecap="round"/><circle cx="133.7" cy="415.3" r="5.2" fill="url(#g_yellow)"/><circle cx="173.1" cy="419.6" r="5.2" fill="url(#g_yellow)"/><circle cx="212.6" cy="419.6" r="5.2" fill="url(#g_yellow)"/><circle cx="252.0" cy="414.0" r="5.2" fill="url(#g_yellow)"/><circle cx="291.5" cy="420.5" r="5.2" fill="url(#g_yellow)"/><circle cx="330.9" cy="416.5" r="5.2" fill="url(#g_yellow)"/><circle cx="370.4" cy="416.0" r="5.2" fill="url(#g_yellow)"/><circle cx="409.8" cy="420.6" r="5.2" fill="url(#g_yellow)"/><circle cx="449.3" cy="417.1" r="5.2" fill="url(#g_yellow)"/><circle cx="488.8" cy="421.3" r="5.2" fill="url(#g_yellow)"/><circle cx="528.2" cy="420.3" r="5.2" fill="url(#g_yellow)"/></g>
<g filter="url(#sh)"><polyline points="133.7,467.8 173.1,474.0 212.6,474.0 252.0,475.9 291.5,479.9 330.9,479.4 370.4,481.0 409.8,480.0 449.3,484.6 488.8,484.6 528.2,490.0" fill="none" stroke="#2c2c2c" stroke-width="4.0" stroke-linejoin="round" stroke-linecap="round"/><circle cx="133.7" cy="467.8" r="5.2" fill="url(#g_gray)"/><circle cx="173.1" cy="474.0" r="5.2" fill="url(#g_gray)"/><circle cx="212.6" cy="474.0" r="5.2" fill="url(#g_gray)"/><circle cx="252.0" cy="475.9" r="5.2" fill="url(#g_gray)"/><circle cx="291.5" cy="479.9" r="5.2" fill="url(#g_gray)"/><circle cx="330.9" cy="479.4" r="5.2" fill="url(#g_gray)"/><circle cx="370.4" cy="481.0" r="5.2" fill="url(#g_gray)"/><circle cx="409.8" cy="480.0" r="5.2" fill="url(#g_gray)"/><circle cx="449.3" cy="484.6" r="5.2" fill="url(#g_gray)"/><circle cx="488.8" cy="484.6" r="5.2" fill="url(#g_gray)"/><circle cx="528.2" cy="490.0" r="5.2" fill="url(#g_gray)"/></g>
<g filter="url(#sh)"><polyline points="133.7,494.5 173.1,491.9 212.6,496.8 252.0,492.9 291.5,497.8 330.9,496.8 370.4,501.3 409.8,496.7 449.3,500.3 488.8,502.0 528.2,501.3" fill="none" stroke="#0808c8" stroke-width="4.0" stroke-linejoin="round" stroke-linecap="round"/><circle cx="133.7" cy="494.5" r="5.2" fill="url(#g_blue)"/><circle cx="173.1" cy="491.9" r="5.2" fill="url(#g_blue)"/><circle cx="212.6" cy="496.8" r="5.2" fill="url(#g_blue)"/><circle cx="252.0" cy="492.9" r="5.2" fill="url(#g_blue)"/><circle cx="291.5" cy="497.8" r="5.2" fill="url(#g_blue)"/><circle cx="330.9" cy="496.8" r="5.2" fill="url(#g_blue)"/><circle cx="370.4" cy="501.3" r="5.2" fill="url(#g_blue)"/><circle cx="409.8" cy="496.7" r="5.2" fill="url(#g_blue)"/><circle cx="449.3" cy="500.3" r="5.2" fill="url(#g_blue)"/><circle cx="488.8" cy="502.0" r="5.2" fill="url(#g_blue)"/><circle cx="528.2" cy="501.3" r="5.2" fill="url(#g_blue)"/></g>
<text x="287.7" y="322.6" class="ann">grafted</text>
<g filter="url(#sh2)"><line x1="577.2" y1="326.1" x2="609.7" y2="326.1" stroke="#c00a0c" stroke-width="3.3" stroke-linecap="round"/><circle cx="592.0" cy="324.9" r="5.2" fill="url(#g_red)"/></g><text transform="translate(613.8,334.7) scale(0.925,1)" class="lg">pH=1</text>
<g filter="url(#sh2)"><line x1="577.2" y1="356.13" x2="609.7" y2="356.13" stroke="#10a048" stroke-width="3.3" stroke-linecap="round"/><circle cx="592.0" cy="354.9" r="5.2" fill="url(#g_green)"/></g><text transform="translate(613.8,364.7) scale(0.925,1)" class="lg">pH=2</text>
<g filter="url(#sh2)"><line x1="577.2" y1="386.16" x2="609.7" y2="386.16" stroke="#6a2a92" stroke-width="3.3" stroke-linecap="round"/><circle cx="592.0" cy="385.0" r="5.2" fill="url(#g_purple)"/></g><text transform="translate(613.8,394.8) scale(0.925,1)" class="lg">pH=3</text>
<g filter="url(#sh2)"><line x1="577.2" y1="416.19000000000005" x2="609.7" y2="416.19000000000005" stroke="#14ade6" stroke-width="3.3" stroke-linecap="round"/><circle cx="592.0" cy="415.0" r="5.2" fill="url(#g_cyan)"/></g><text transform="translate(613.8,424.8) scale(0.925,1)" class="lg">pH=4</text>
<g filter="url(#sh2)"><line x1="577.2" y1="446.22" x2="609.7" y2="446.22" stroke="#f5b814" stroke-width="3.3" stroke-linecap="round"/><circle cx="592.0" cy="445.0" r="5.2" fill="url(#g_yellow)"/></g><text transform="translate(613.8,454.8) scale(0.925,1)" class="lg">pH=5</text>
<g filter="url(#sh2)"><line x1="577.2" y1="476.25" x2="609.7" y2="476.25" stroke="#2c2c2c" stroke-width="3.3" stroke-linecap="round"/><circle cx="592.0" cy="475.1" r="5.2" fill="url(#g_gray)"/></g><text transform="translate(613.8,484.9) scale(0.925,1)" class="lg">pH=6</text>
<g filter="url(#sh2)"><line x1="577.2" y1="506.28000000000003" x2="609.7" y2="506.28000000000003" stroke="#0808c8" stroke-width="3.3" stroke-linecap="round"/><circle cx="592.0" cy="505.1" r="5.2" fill="url(#g_blue)"/></g><text transform="translate(613.8,514.9) scale(0.925,1)" class="lg">pH=7</text>
<g filter="url(#sh)"><polyline points="133.7,695.6 173.1,690.0 212.6,700.9 252.0,691.5 291.5,703.6 330.9,699.6 370.4,709.8 409.8,702.5 449.3,708.6 488.8,711.0 528.2,708.4" fill="none" stroke="#0808c8" stroke-width="4.0" stroke-linejoin="round" stroke-linecap="round"/><circle cx="133.7" cy="695.6" r="5.2" fill="url(#g_red)"/><circle cx="173.1" cy="690.0" r="5.2" fill="url(#g_red)"/><circle cx="212.6" cy="700.9" r="5.2" fill="url(#g_red)"/><circle cx="252.0" cy="691.5" r="5.2" fill="url(#g_red)"/><circle cx="291.5" cy="703.6" r="5.2" fill="url(#g_red)"/><circle cx="330.9" cy="699.6" r="5.2" fill="url(#g_red)"/><circle cx="370.4" cy="709.8" r="5.2" fill="url(#g_red)"/><circle cx="409.8" cy="702.5" r="5.2" fill="url(#g_red)"/><circle cx="449.3" cy="708.6" r="5.2" fill="url(#g_red)"/><circle cx="488.8" cy="711.0" r="5.2" fill="url(#g_red)"/><circle cx="528.2" cy="708.4" r="5.2" fill="url(#g_red)"/></g>
<g filter="url(#sh)"><polyline points="133.7,635.6 173.1,644.5 212.6,640.7 252.0,647.6 291.5,641.6 330.9,652.5 370.4,648.4 409.8,650.2 449.3,652.5 488.8,660.0 528.2,647.2" fill="none" stroke="#10a048" stroke-width="4.0" stroke-linejoin="round" stroke-linecap="round"/><circle cx="133.7" cy="635.6" r="5.2" fill="url(#g_green)"/><circle cx="173.1" cy="644.5" r="5.2" fill="url(#g_green)"/><circle cx="212.6" cy="640.7" r="5.2" fill="url(#g_green)"/><circle cx="252.0" cy="647.6" r="5.2" fill="url(#g_green)"/><circle cx="291.5" cy="641.6" r="5.2" fill="url(#g_green)"/><circle cx="330.9" cy="652.5" r="5.2" fill="url(#g_green)"/><circle cx="370.4" cy="648.4" r="5.2" fill="url(#g_green)"/><circle cx="409.8" cy="650.2" r="5.2" fill="url(#g_green)"/><circle cx="449.3" cy="652.5" r="5.2" fill="url(#g_green)"/><circle cx="488.8" cy="660.0" r="5.2" fill="url(#g_green)"/><circle cx="528.2" cy="647.2" r="5.2" fill="url(#g_green)"/></g>
<g filter="url(#sh)"><polyline points="133.7,676.0 173.1,677.0 212.6,669.8 252.0,674.2 291.5,693.0 330.9,671.6 370.4,679.6 409.8,676.9 449.3,674.2 488.8,698.2 528.2,683.1" fill="none" stroke="#6a2a92" stroke-width="4.0" stroke-linejoin="round" stroke-linecap="round"/><circle cx="133.7" cy="676.0" r="5.2" fill="url(#g_purple)"/><circle cx="173.1" cy="677.0" r="5.2" fill="url(#g_purple)"/><circle cx="212.6" cy="669.8" r="5.2" fill="url(#g_purple)"/><circle cx="252.0" cy="674.2" r="5.2" fill="url(#g_purple)"/><circle cx="291.5" cy="693.0" r="5.2" fill="url(#g_purple)"/><circle cx="330.9" cy="671.6" r="5.2" fill="url(#g_purple)"/><circle cx="370.4" cy="679.6" r="5.2" fill="url(#g_purple)"/><circle cx="409.8" cy="676.9" r="5.2" fill="url(#g_purple)"/><circle cx="449.3" cy="674.2" r="5.2" fill="url(#g_purple)"/><circle cx="488.8" cy="698.2" r="5.2" fill="url(#g_purple)"/><circle cx="528.2" cy="683.1" r="5.2" fill="url(#g_purple)"/></g>
<g filter="url(#sh)"><polyline points="133.7,684.0 173.1,676.5 212.6,655.0 252.0,676.5 291.5,690.8 330.9,665.3 370.4,674.2 409.8,667.6 449.3,670.7 488.8,690.8 528.2,665.0" fill="none" stroke="#14ade6" stroke-width="4.0" stroke-linejoin="round" stroke-linecap="round"/><circle cx="133.7" cy="684.0" r="5.2" fill="url(#g_cyan)"/><circle cx="173.1" cy="676.5" r="5.2" fill="url(#g_cyan)"/><circle cx="212.6" cy="655.0" r="5.2" fill="url(#g_cyan)"/><circle cx="252.0" cy="676.5" r="5.2" fill="url(#g_cyan)"/><circle cx="291.5" cy="690.8" r="5.2" fill="url(#g_cyan)"/><circle cx="330.9" cy="665.3" r="5.2" fill="url(#g_cyan)"/><circle cx="370.4" cy="674.2" r="5.2" fill="url(#g_cyan)"/><circle cx="409.8" cy="667.6" r="5.2" fill="url(#g_cyan)"/><circle cx="449.3" cy="670.7" r="5.2" fill="url(#g_cyan)"/><circle cx="488.8" cy="690.8" r="5.2" fill="url(#g_cyan)"/><circle cx="528.2" cy="665.0" r="5.2" fill="url(#g_cyan)"/></g>
<g filter="url(#sh)"><polyline points="133.7,682.2 173.1,665.0 212.6,645.2 252.0,649.9 291.5,648.2 330.9,659.5 370.4,669.1 409.8,659.1 449.3,660.0 488.8,654.7 528.2,666.6" fill="none" stroke="#f5b814" stroke-width="4.0" stroke-linejoin="round" stroke-linecap="round"/><circle cx="133.7" cy="682.2" r="5.2" fill="url(#g_yellow)"/><circle cx="173.1" cy="665.0" r="5.2" fill="url(#g_yellow)"/><circle cx="212.6" cy="645.2" r="5.2" fill="url(#g_yellow)"/><circle cx="252.0" cy="649.9" r="5.2" fill="url(#g_yellow)"/><circle cx="291.5" cy="648.2" r="5.2" fill="url(#g_yellow)"/><circle cx="330.9" cy="659.5" r="5.2" fill="url(#g_yellow)"/><circle cx="370.4" cy="669.1" r="5.2" fill="url(#g_yellow)"/><circle cx="409.8" cy="659.1" r="5.2" fill="url(#g_yellow)"/><circle cx="449.3" cy="660.0" r="5.2" fill="url(#g_yellow)"/><circle cx="488.8" cy="654.7" r="5.2" fill="url(#g_yellow)"/><circle cx="528.2" cy="666.6" r="5.2" fill="url(#g_yellow)"/></g>
<g filter="url(#sh)"><polyline points="133.7,673.7 173.1,656.4 212.6,659.8 252.0,667.6 291.5,701.9 330.9,678.3 370.4,683.1 409.8,689.0 449.3,693.2 488.8,710.3 528.2,719.9" fill="none" stroke="#2c2c2c" stroke-width="4.0" stroke-linejoin="round" stroke-linecap="round"/><circle cx="133.7" cy="673.7" r="5.2" fill="url(#g_gray)"/><circle cx="173.1" cy="656.4" r="5.2" fill="url(#g_gray)"/><circle cx="212.6" cy="659.8" r="5.2" fill="url(#g_gray)"/><circle cx="252.0" cy="667.6" r="5.2" fill="url(#g_gray)"/><circle cx="291.5" cy="701.9" r="5.2" fill="url(#g_gray)"/><circle cx="330.9" cy="678.3" r="5.2" fill="url(#g_gray)"/><circle cx="370.4" cy="683.1" r="5.2" fill="url(#g_gray)"/><circle cx="409.8" cy="689.0" r="5.2" fill="url(#g_gray)"/><circle cx="449.3" cy="693.2" r="5.2" fill="url(#g_gray)"/><circle cx="488.8" cy="710.3" r="5.2" fill="url(#g_gray)"/><circle cx="528.2" cy="719.9" r="5.2" fill="url(#g_gray)"/></g>
<g filter="url(#sh)"><polyline points="133.7,723.1 173.1,700.0 212.6,724.0 252.0,713.3 291.5,732.2 330.9,736.4 370.4,740.9 409.8,726.2 449.3,737.0 488.8,755.7 528.2,743.4" fill="none" stroke="#0808c8" stroke-width="4.0" stroke-linejoin="round" stroke-linecap="round"/><circle cx="133.7" cy="723.1" r="5.2" fill="url(#g_blue)"/><circle cx="173.1" cy="700.0" r="5.2" fill="url(#g_blue)"/><circle cx="212.6" cy="724.0" r="5.2" fill="url(#g_blue)"/><circle cx="252.0" cy="713.3" r="5.2" fill="url(#g_blue)"/><circle cx="291.5" cy="732.2" r="5.2" fill="url(#g_blue)"/><circle cx="330.9" cy="736.4" r="5.2" fill="url(#g_blue)"/><circle cx="370.4" cy="740.9" r="5.2" fill="url(#g_blue)"/><circle cx="409.8" cy="726.2" r="5.2" fill="url(#g_blue)"/><circle cx="449.3" cy="737.0" r="5.2" fill="url(#g_blue)"/><circle cx="488.8" cy="755.7" r="5.2" fill="url(#g_blue)"/><circle cx="528.2" cy="743.4" r="5.2" fill="url(#g_blue)"/></g>
<g filter="url(#sh)"><polyline points="133.7,686.7 173.1,687.5 212.6,720.7 252.0,699.1 291.5,712.4 330.9,703.6 370.4,722.2 409.8,733.4 449.3,722.4 488.8,726.1 528.2,733.2" fill="none" stroke="#9c4810" stroke-width="4.0" stroke-linejoin="round" stroke-linecap="round"/><circle cx="133.7" cy="686.7" r="5.2" fill="url(#g_brown)"/><circle cx="173.1" cy="687.5" r="5.2" fill="url(#g_brown)"/><circle cx="212.6" cy="720.7" r="5.2" fill="url(#g_brown)"/><circle cx="252.0" cy="699.1" r="5.2" fill="url(#g_brown)"/><circle cx="291.5" cy="712.4" r="5.2" fill="url(#g_brown)"/><circle cx="330.9" cy="703.6" r="5.2" fill="url(#g_brown)"/><circle cx="370.4" cy="722.2" r="5.2" fill="url(#g_brown)"/><circle cx="409.8" cy="733.4" r="5.2" fill="url(#g_brown)"/><circle cx="449.3" cy="722.4" r="5.2" fill="url(#g_brown)"/><circle cx="488.8" cy="726.1" r="5.2" fill="url(#g_brown)"/><circle cx="528.2" cy="733.2" r="5.2" fill="url(#g_brown)"/></g>
<text x="284.6" y="619.7" class="ann">grafted</text>
<g filter="url(#sh2)"><line x1="573.5" y1="591.4" x2="605.9" y2="591.4" stroke="#0808c8" stroke-width="3.3" stroke-linecap="round"/><circle cx="588.2" cy="590.2" r="5.2" fill="url(#g_red)"/></g><text transform="translate(610,600.0) scale(0.94,1)" class="lg">pH=7</text>
<g filter="url(#sh2)"><line x1="573.5" y1="621.43" x2="605.9" y2="621.43" stroke="#10a048" stroke-width="3.3" stroke-linecap="round"/><circle cx="588.2" cy="620.2" r="5.2" fill="url(#g_green)"/></g><text transform="translate(610,630.0) scale(0.94,1)" class="lg">pH=8</text>
<g filter="url(#sh2)"><line x1="573.5" y1="651.46" x2="605.9" y2="651.46" stroke="#6a2a92" stroke-width="3.3" stroke-linecap="round"/><circle cx="588.2" cy="650.3" r="5.2" fill="url(#g_purple)"/></g><text transform="translate(610,660.1) scale(0.94,1)" class="lg">pH=9</text>
<g filter="url(#sh2)"><line x1="573.5" y1="681.49" x2="605.9" y2="681.49" stroke="#14ade6" stroke-width="3.3" stroke-linecap="round"/><circle cx="588.2" cy="680.3" r="5.2" fill="url(#g_cyan)"/></g><text transform="translate(610,690.1) scale(0.94,1)" class="lg">pH=10</text>
<g filter="url(#sh2)"><line x1="573.5" y1="711.52" x2="605.9" y2="711.52" stroke="#f5b814" stroke-width="3.3" stroke-linecap="round"/><circle cx="588.2" cy="710.3" r="5.2" fill="url(#g_yellow)"/></g><text transform="translate(610,720.1) scale(0.94,1)" class="lg">pH=11</text>
<g filter="url(#sh2)"><line x1="573.5" y1="741.55" x2="605.9" y2="741.55" stroke="#2c2c2c" stroke-width="3.3" stroke-linecap="round"/><circle cx="588.2" cy="740.3" r="5.2" fill="url(#g_gray)"/></g><text transform="translate(610,750.1) scale(0.94,1)" class="lg">pH=12</text>
<g filter="url(#sh2)"><line x1="573.5" y1="771.5799999999999" x2="605.9" y2="771.5799999999999" stroke="#0808c8" stroke-width="3.3" stroke-linecap="round"/><circle cx="588.2" cy="770.4" r="5.2" fill="url(#g_blue)"/></g><text transform="translate(610,780.2) scale(0.94,1)" class="lg">pH=13</text>
<g filter="url(#sh2)"><line x1="573.5" y1="801.61" x2="605.9" y2="801.61" stroke="#9c4810" stroke-width="3.3" stroke-linecap="round"/><circle cx="588.2" cy="800.4" r="5.2" fill="url(#g_brown)"/></g><text transform="translate(610,810.2) scale(0.94,1)" class="lg">pH=14</text>
<g filter="url(#sh)"><polyline points="160.4,968.8 225.9,977.6 291.4,992.1 356.9,1013.6 422.4,1050.2 487.9,1117.2" fill="none" stroke="#1aafe3" stroke-width="4.2" stroke-linejoin="round"/></g>
<rect x="159.4" y="962.6" width="2" height="16.299999999999955" fill="#d80c0c"/>
<rect x="156.7" y="962.6" width="7.4" height="3.6" fill="#d80c0c"/>
<rect x="156.7" y="975.3" width="7.4" height="3.6" fill="#d80c0c"/>
<rect x="224.9" y="970.3" width="2" height="17.0" fill="#d80c0c"/>
<rect x="222.2" y="970.3" width="7.4" height="3.6" fill="#d80c0c"/>
<rect x="222.2" y="983.7" width="7.4" height="3.6" fill="#d80c0c"/>
<rect x="290.4" y="990" width="2" height="4.5" fill="#d80c0c"/>
<rect x="287.7" y="990" width="7.4" height="3.6" fill="#d80c0c"/>
<rect x="287.7" y="990.9" width="7.4" height="3.6" fill="#d80c0c"/>
<rect x="355.9" y="1012" width="2" height="3.5" fill="#d80c0c"/>
<rect x="353.2" y="1012" width="7.4" height="3.6" fill="#d80c0c"/>
<rect x="353.2" y="1011.9" width="7.4" height="3.6" fill="#d80c0c"/>
<rect x="421.4" y="1048" width="2" height="4.5" fill="#d80c0c"/>
<rect x="418.7" y="1048" width="7.4" height="3.6" fill="#d80c0c"/>
<rect x="418.7" y="1048.9" width="7.4" height="3.6" fill="#d80c0c"/>
<rect x="486.9" y="1108.5" width="2" height="17.799999999999955" fill="#d80c0c"/>
<rect x="484.2" y="1108.5" width="7.4" height="3.6" fill="#d80c0c"/>
<rect x="484.2" y="1122.7" width="7.4" height="3.6" fill="#d80c0c"/>
<g filter="url(#sh2)"><circle cx="160.4" cy="968.8" r="5.2" fill="url(#g_dball)"/><circle cx="225.9" cy="977.6" r="5.2" fill="url(#g_dball)"/><circle cx="291.4" cy="992.1" r="5.2" fill="url(#g_dball)"/><circle cx="356.9" cy="1013.6" r="5.2" fill="url(#g_dball)"/><circle cx="422.4" cy="1050.2" r="5.2" fill="url(#g_dball)"/><circle cx="487.9" cy="1117.2" r="5.2" fill="url(#g_dball)"/></g>
<g>
<rect x="122.3" y="1049.5" width="282.7" height="141.0999999999999" fill="#fff"/>
<line x1="122.3" y1="1068.3" x2="405" y2="1068.3" stroke="#999" stroke-width="1"/>
<line x1="122.3" y1="1088.6" x2="405" y2="1088.6" stroke="#999" stroke-width="1"/>
<line x1="122.3" y1="1109.1" x2="405" y2="1109.1" stroke="#999" stroke-width="1"/>
<line x1="122.3" y1="1129.6" x2="405" y2="1129.6" stroke="#999" stroke-width="1"/>
<line x1="122.3" y1="1150.1" x2="405" y2="1150.1" stroke="#999" stroke-width="1"/>
<line x1="122.3" y1="1170.3" x2="405" y2="1170.3" stroke="#999" stroke-width="1"/>
<line x1="238" y1="1049.5" x2="238" y2="1068.3" stroke="#999" stroke-width="1"/>
<line x1="238" y1="1068.3" x2="238" y2="1088.6" stroke="#999" stroke-width="1"/>
<line x1="238" y1="1088.6" x2="238" y2="1109.1" stroke="#999" stroke-width="1"/>
<line x1="238" y1="1109.1" x2="238" y2="1129.6" stroke="#999" stroke-width="1"/>
<line x1="238" y1="1129.6" x2="238" y2="1150.1" stroke="#999" stroke-width="1"/>
<line x1="238" y1="1150.1" x2="238" y2="1170.3" stroke="#999" stroke-width="1"/>
<line x1="238" y1="1170.3" x2="238" y2="1190.6" stroke="#999" stroke-width="1"/>
<line x1="310.8" y1="1068.3" x2="310.8" y2="1088.6" stroke="#999" stroke-width="1"/>
<line x1="310.8" y1="1088.6" x2="310.8" y2="1109.1" stroke="#999" stroke-width="1"/>
<line x1="310.8" y1="1109.1" x2="310.8" y2="1129.6" stroke="#999" stroke-width="1"/>
<line x1="310.8" y1="1129.6" x2="310.8" y2="1150.1" stroke="#999" stroke-width="1"/>
<line x1="310.8" y1="1150.1" x2="310.8" y2="1170.3" stroke="#999" stroke-width="1"/>
<line x1="310.8" y1="1170.3" x2="310.8" y2="1190.6" stroke="#999" stroke-width="1"/>
<line x1="366" y1="1049.5" x2="366" y2="1068.3" stroke="#999" stroke-width="1"/>
<line x1="366" y1="1068.3" x2="366" y2="1088.6" stroke="#999" stroke-width="1"/>
<line x1="366" y1="1088.6" x2="366" y2="1109.1" stroke="#999" stroke-width="1"/>
<line x1="366" y1="1109.1" x2="366" y2="1129.6" stroke="#999" stroke-width="1"/>
<line x1="366" y1="1129.6" x2="366" y2="1150.1" stroke="#999" stroke-width="1"/>
<line x1="366" y1="1150.1" x2="366" y2="1170.3" stroke="#999" stroke-width="1"/>
<line x1="366" y1="1170.3" x2="366" y2="1190.6" stroke="#999" stroke-width="1"/>
<path d="M122.3,1190.6 V1049.5 H405" fill="none" stroke="#111" stroke-width="1.5"/>
<path d="M121.55,1190.8 H405.2 V1048.75" fill="none" stroke="#111" stroke-width="2"/>
<text x="123.5" y="1063.9" class="tb" text-anchor="start" >model</text>
<text x="123.5" y="1083.5" class="tb" text-anchor="start" >reduced Chi-Sqr</text>
<text x="123.5" y="1103.8" class="tb" text-anchor="start" >adj. R-Square</text>
<text x="123.5" y="1124.3" class="tb" text-anchor="start" >grafted membrane</text>
<text x="302.0" y="1063.9" class="tb" text-anchor="middle" font-weight="bold"><tspan font-style="italic">y</tspan> = <tspan font-style="italic">A</tspan>×exp(-<tspan font-style="italic">x</tspan>/<tspan font-style="italic">t</tspan>) + <tspan font-style="italic">y</tspan><tspan font-size="11" dy="3">0</tspan></text>
<text x="274.4" y="1083.5" class="tb" text-anchor="middle" >0.10665</text>
<text x="274.4" y="1103.8" class="tb" text-anchor="middle" >0.99887</text>
<text x="274.4" y="1124.3" class="tb" text-anchor="middle" >parameter</text>
<text x="338.4" y="1124.3" class="tb" text-anchor="middle" >value</text>
<text x="385.5" y="1124.3" class="tb" text-anchor="middle" >SD</text>
<text x="274.4" y="1144.8" class="tb" text-anchor="middle"><tspan font-style="italic">y</tspan><tspan font-size="11" dy="3" font-style="italic">0</tspan></text>
<text x="274.4" y="1165.3" class="tb" text-anchor="middle" ><tspan font-style="italic">A</tspan></text>
<text x="274.4" y="1185.5" class="tb" text-anchor="middle" ><tspan font-style="italic">t</tspan></text>
<text x="338.4" y="1144.8" class="tb" text-anchor="middle" >441.64</text>
<text x="338.4" y="1165.3" class="tb" text-anchor="middle" >-8.40</text>
<text x="338.4" y="1185.5" class="tb" text-anchor="middle" >-1.86</text>
<text x="385.5" y="1144.8" class="tb" text-anchor="middle" >3.31</text>
<text x="385.5" y="1165.3" class="tb" text-anchor="middle" >1.09</text>
<text x="385.5" y="1185.5" class="tb" text-anchor="middle" >0.07</text>
</g>
</g></svg></body></html>
